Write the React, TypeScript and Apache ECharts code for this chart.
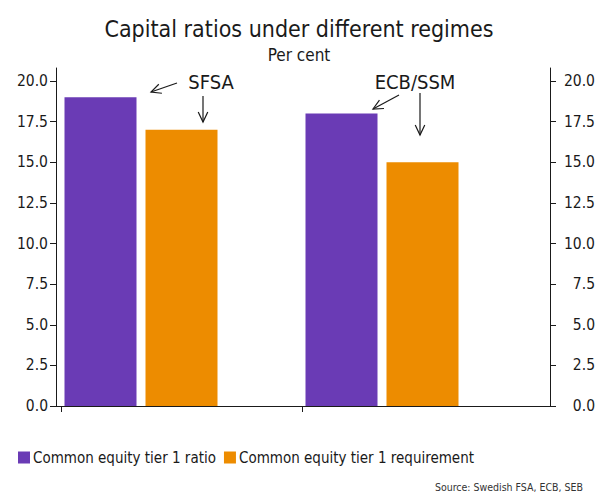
import React, { useEffect, useRef } from 'react';
import * as echarts from 'echarts';

const title = 'Capital ratios under different regimes';
const subtitle = 'Per cent';
const source = 'Source: Swedish FSA, ECB, SEB';
const categories = ['SFSA', 'ECB/SSM'];
const seriesNames = ['Common equity tier 1 ratio', 'Common equity tier 1 requirement'];
const cet1Ratio = [19, 18];
const cet1Requirement = [17, 15];
const emptySlot = ['-', '-'];
const yTicks = [0, 2.5, 5, 7.5, 10, 12.5, 15, 17.5, 20];
const yMax = 20.8;

const FONT = '"DejaVu Sans Condensed", "Liberation Sans Narrow", sans-serif';
const PURPLE = '#6a3bb5';
const ORANGE = '#ed8c00';
const INK = '#1a1a1a';

function arrow(x1: number, y1: number, x2: number, y2: number, head = 11, angle = Math.PI / 7) {
  const a = Math.atan2(y1 - y2, x1 - x2);
  const p1 = [x2 + head * Math.cos(a + angle), y2 + head * Math.sin(a + angle)];
  const p2 = [x2 + head * Math.cos(a - angle), y2 + head * Math.sin(a - angle)];
  return [
    { type: 'line', shape: { x1, y1, x2, y2 }, style: { stroke: INK, lineWidth: 1.2 } },
    { type: 'polyline', shape: { points: [p1, [x2, y2], p2] }, style: { stroke: INK, lineWidth: 1.2, fill: null } },
  ];
}

export default function App() {
  const ref = useRef<HTMLDivElement>(null);
  useEffect(() => {
    document.body.style.margin = '0';
    const chart = echarts.init(ref.current!, null, { renderer: 'svg' });
    const fmt = (v: number) => v.toFixed(1);
    const yAxisBase = {
      gridIndex: 0,
      type: 'value',
      min: 0,
      max: yMax,
      axisLine: { show: true, lineStyle: { color: INK, width: 1 } },
      axisTick: { show: true, length: 6, customValues: yTicks, lineStyle: { color: INK } },
      splitLine: { show: false },
    };
    chart.setOption({
      animation: false,
      backgroundColor: '#ffffff',
      title: [
        { text: title, left: 'center', top: 12, textStyle: { fontFamily: FONT, fontSize: 23, fontWeight: 'normal', color: INK } },
        { text: subtitle, left: 'center', top: 41, textStyle: { fontFamily: FONT, fontSize: 17, fontWeight: 'normal', color: INK } },
        { text: source, right: 10, bottom: 2, textStyle: { fontFamily: FONT, fontSize: 10.5, fontWeight: 'normal', color: '#333' } },
      ],
      grid: [
        { left: 56, right: 47, top: 68, bottom: 93 },
        { left: 61, right: 55, top: 68, bottom: 93 },
      ],
      xAxis: [
        {
          gridIndex: 0, type: 'value', position: 'bottom', min: 0, max: 1,
          axisLine: { show: true, onZero: false, lineStyle: { color: INK, width: 1 } },
          axisTick: { show: false }, axisLabel: { show: false }, splitLine: { show: false },
        },
        {
          gridIndex: 1, type: 'category', position: 'bottom', data: categories,
          axisLine: { show: false }, axisTick: { show: false }, axisLabel: { show: false },
        },
        {
          gridIndex: 1, type: 'value', position: 'bottom', min: 0, max: categories.length,
          axisLine: { show: false, onZero: false },
          axisTick: { show: true, length: 6, customValues: categories.map((_, i) => i), lineStyle: { color: INK } },
          axisLabel: { show: false }, splitLine: { show: false },
        },
      ],
      yAxis: [
        {
          ...yAxisBase, position: 'left',
          axisLabel: { customValues: yTicks, formatter: fmt, margin: 8, color: INK, fontSize: 15.5, fontFamily: FONT },
        },
        {
          ...yAxisBase, position: 'right',
          axisLabel: { customValues: yTicks, formatter: fmt, margin: 45, align: 'right', color: INK, fontSize: 15.5, fontFamily: FONT },
        },
        { gridIndex: 1, type: 'value', min: 0, max: yMax, show: false },
      ],
      legend: {
        data: seriesNames,
        left: 18, top: 450,
        icon: 'rect', itemWidth: 12, itemHeight: 12, itemGap: 8, padding: 0,
        textStyle: { fontFamily: FONT, fontSize: 15, color: INK, padding: [0, 0, 0, -2] },
      },
      series: [
        { type: 'bar', name: seriesNames[0], xAxisIndex: 1, yAxisIndex: 2, data: cet1Ratio, barWidth: 72, barGap: '12.5%', itemStyle: { color: PURPLE } },
        { type: 'bar', name: seriesNames[1], xAxisIndex: 1, yAxisIndex: 2, data: cet1Requirement, barWidth: 72, barGap: '12.5%', itemStyle: { color: ORANGE } },
        { type: 'bar', name: 'slot', xAxisIndex: 1, yAxisIndex: 2, data: emptySlot, barWidth: 72, barGap: '12.5%', silent: true },
      ],
      graphic: [
        { type: 'text', x: 211, y: 82, style: { text: categories[0], fontFamily: FONT, fontSize: 20, fill: INK, align: 'center', verticalAlign: 'middle' } },
        { type: 'text', x: 415, y: 82, style: { text: categories[1], fontFamily: FONT, fontSize: 20, fill: INK, align: 'center', verticalAlign: 'middle' } },
        ...arrow(177, 83, 151, 92),
        ...arrow(203, 96, 203, 122),
        ...arrow(399, 95, 373, 109),
        ...arrow(420, 93, 420, 135),
      ],
    });
    return () => chart.dispose();
  }, []);
  return <div ref={ref} style={{ width: 598, height: 499 }} />;
}
